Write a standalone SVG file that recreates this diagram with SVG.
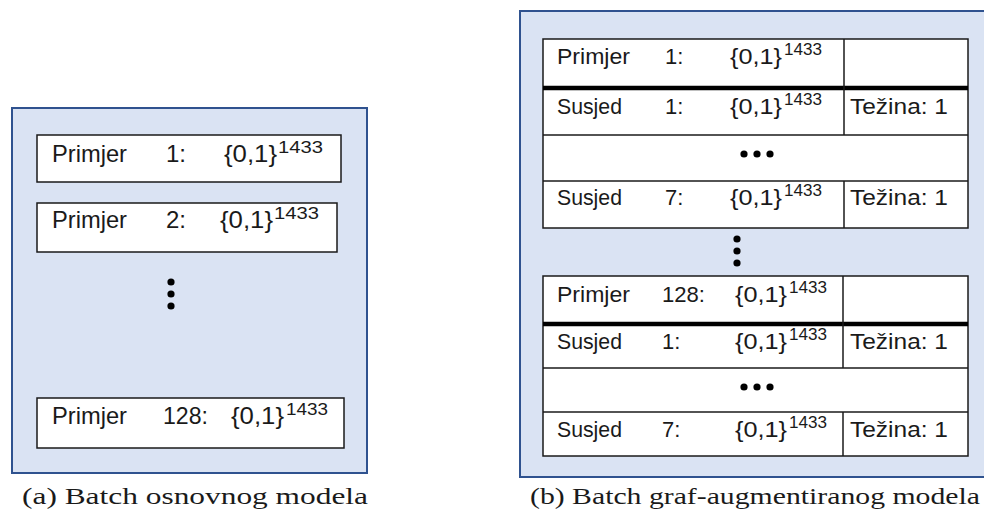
<svg xmlns="http://www.w3.org/2000/svg" width="984" height="526" viewBox="0 0 984 526">
<style>
.panel{fill:#DAE3F3;stroke:#2F528F;stroke-width:2}
.box{fill:#fff;stroke:#1a1a1a;stroke-width:1.5}
.ln{stroke:#1a1a1a;stroke-width:1.5;fill:none}
.thick{stroke:#000;stroke-width:4.5}
.t{font-family:"Liberation Sans",Arial,sans-serif;fill:#1a1a1a}
.L{font-size:24px}
.R{font-size:22px}
.sL{font-size:17px}
.sR{font-size:16px}
.cap{font-family:"Liberation Serif","Times New Roman",serif;font-size:23px;fill:#1a1a1a}
.dot{fill:#000}
</style>
<defs>
<circle id="d" r="3.6" class="dot"/>
</defs>

<g id="panel-a">
<rect class="panel" x="12" y="108" width="355" height="365"/>
<g id="a-row1">
<rect class="box" x="37" y="135" width="304" height="47"/>
<text class="t L" x="52" y="162" textLength="75" lengthAdjust="spacingAndGlyphs">Primjer</text>
<text class="t L" x="166" y="162">1:</text>
<text class="t L" x="224" y="162" textLength="53" lengthAdjust="spacingAndGlyphs">{0,1}</text>
<text class="t sL" x="278" y="153" textLength="45" lengthAdjust="spacingAndGlyphs">1433</text>
</g>
<g id="a-row2">
<rect class="box" x="37" y="203" width="300" height="49"/>
<text class="t L" x="52" y="228" textLength="75" lengthAdjust="spacingAndGlyphs">Primjer</text>
<text class="t L" x="166" y="228">2:</text>
<text class="t L" x="220" y="228" textLength="53" lengthAdjust="spacingAndGlyphs">{0,1}</text>
<text class="t sL" x="274" y="219" textLength="45" lengthAdjust="spacingAndGlyphs">1433</text>
</g>
<g id="a-dots">
<use href="#d" x="171" y="282"/>
<use href="#d" x="171" y="294"/>
<use href="#d" x="171" y="306"/>
</g>
<g id="a-row128">
<rect class="box" x="37" y="398" width="307" height="50"/>
<text class="t L" x="52" y="424" textLength="75" lengthAdjust="spacingAndGlyphs">Primjer</text>
<text class="t L" x="163" y="424" textLength="45" lengthAdjust="spacingAndGlyphs">128:</text>
<text class="t L" x="231" y="424" textLength="53" lengthAdjust="spacingAndGlyphs">{0,1}</text>
<text class="t sL" x="286" y="415" textLength="42" lengthAdjust="spacingAndGlyphs">1433</text>
</g>
<text class="cap" x="22" y="504" textLength="346" lengthAdjust="spacingAndGlyphs">(a) Batch osnovnog modela</text>
</g>

<g id="panel-b">
<rect class="panel" x="520" y="11" width="474" height="466"/>
<g id="b-table1">
<rect class="box" x="543" y="39" width="425" height="189"/>
<line class="thick" x1="543" y1="88" x2="968" y2="88"/>
<line class="ln" x1="543" y1="135" x2="968" y2="135"/>
<line class="ln" x1="543" y1="181" x2="968" y2="181"/>
<line class="ln" x1="844" y1="39" x2="844" y2="135"/>
<line class="ln" x1="844" y1="181" x2="844" y2="228"/>
<text class="t R" x="557" y="64" textLength="73" lengthAdjust="spacingAndGlyphs">Primjer</text>
<text class="t R" x="665" y="64">1:</text>
<text class="t R" x="730" y="64" textLength="52" lengthAdjust="spacingAndGlyphs">{0,1}</text>
<text class="t sR" x="784" y="55" textLength="38" lengthAdjust="spacingAndGlyphs">1433</text>
<text class="t R" x="557" y="114" textLength="65" lengthAdjust="spacingAndGlyphs">Susjed</text>
<text class="t R" x="665" y="114">1:</text>
<text class="t R" x="730" y="114" textLength="52" lengthAdjust="spacingAndGlyphs">{0,1}</text>
<text class="t sR" x="784" y="105" textLength="38" lengthAdjust="spacingAndGlyphs">1433</text>
<text class="t R" x="850" y="114" textLength="98" lengthAdjust="spacingAndGlyphs">Težina: 1</text>
<use href="#d" x="744" y="154"/>
<use href="#d" x="757" y="154"/>
<use href="#d" x="770" y="154"/>
<text class="t R" x="557" y="205" textLength="65" lengthAdjust="spacingAndGlyphs">Susjed</text>
<text class="t R" x="665" y="205">7:</text>
<text class="t R" x="730" y="205" textLength="52" lengthAdjust="spacingAndGlyphs">{0,1}</text>
<text class="t sR" x="784" y="196" textLength="38" lengthAdjust="spacingAndGlyphs">1433</text>
<text class="t R" x="850" y="205" textLength="98" lengthAdjust="spacingAndGlyphs">Težina: 1</text>
</g>
<g id="b-dots">
<use href="#d" x="737" y="239"/>
<use href="#d" x="737" y="251"/>
<use href="#d" x="737" y="263"/>
</g>
<g id="b-table2">
<rect class="box" x="543" y="276" width="425" height="180"/>
<line class="thick" x1="543" y1="324" x2="968" y2="324"/>
<line class="ln" x1="543" y1="368" x2="968" y2="368"/>
<line class="ln" x1="543" y1="412" x2="968" y2="412"/>
<line class="ln" x1="843" y1="276" x2="843" y2="368"/>
<line class="ln" x1="843" y1="412" x2="843" y2="456"/>
<text class="t R" x="557" y="302" textLength="73" lengthAdjust="spacingAndGlyphs">Primjer</text>
<text class="t R" x="662" y="302" textLength="43" lengthAdjust="spacingAndGlyphs">128:</text>
<text class="t R" x="735" y="302" textLength="52" lengthAdjust="spacingAndGlyphs">{0,1}</text>
<text class="t sR" x="789" y="293" textLength="38" lengthAdjust="spacingAndGlyphs">1433</text>
<text class="t R" x="557" y="349" textLength="65" lengthAdjust="spacingAndGlyphs">Susjed</text>
<text class="t R" x="662" y="349">1:</text>
<text class="t R" x="735" y="349" textLength="52" lengthAdjust="spacingAndGlyphs">{0,1}</text>
<text class="t sR" x="789" y="340" textLength="38" lengthAdjust="spacingAndGlyphs">1433</text>
<text class="t R" x="850" y="349" textLength="98" lengthAdjust="spacingAndGlyphs">Težina: 1</text>
<use href="#d" x="744" y="387"/>
<use href="#d" x="757" y="387"/>
<use href="#d" x="770" y="387"/>
<text class="t R" x="557" y="437" textLength="65" lengthAdjust="spacingAndGlyphs">Susjed</text>
<text class="t R" x="662" y="437">7:</text>
<text class="t R" x="735" y="437" textLength="52" lengthAdjust="spacingAndGlyphs">{0,1}</text>
<text class="t sR" x="789" y="428" textLength="38" lengthAdjust="spacingAndGlyphs">1433</text>
<text class="t R" x="850" y="437" textLength="98" lengthAdjust="spacingAndGlyphs">Težina: 1</text>
</g>
<text class="cap" x="530" y="504" textLength="450" lengthAdjust="spacingAndGlyphs">(b) Batch graf-augmentiranog modela</text>
</g>
</svg>
